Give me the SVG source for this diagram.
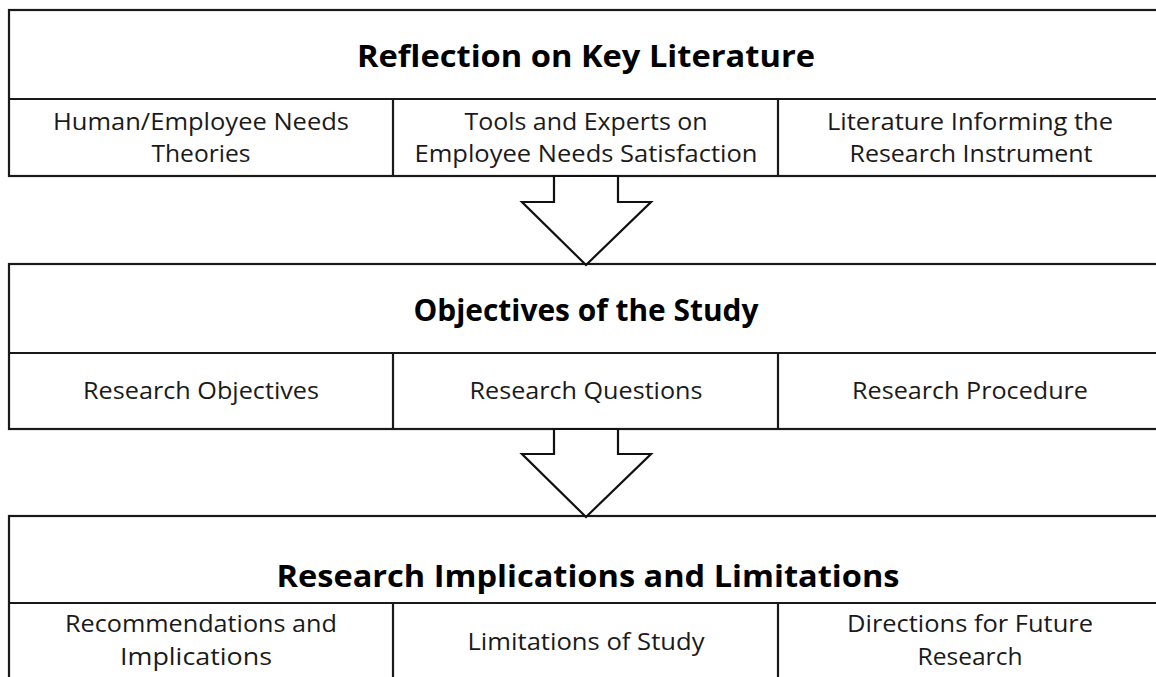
<svg xmlns="http://www.w3.org/2000/svg" width="1156" height="677" viewBox="0 0 1156 677">
<style>
.box{fill:#fff;stroke:#1a1a1a;stroke-width:2.2}
.ln{stroke:#1a1a1a;stroke-width:2.2}
.arr{fill:#fff;stroke:#111;stroke-width:2.2;stroke-linejoin:miter}
.t{font-family:"Open Sans","Liberation Sans",sans-serif;font-weight:bold;font-size:31px;fill:#000;text-anchor:middle}
.s{font-family:"Open Sans","Liberation Sans",sans-serif;font-size:23.5px;fill:#1a1a1a;text-anchor:middle}
</style>
<rect width="1156" height="677" fill="#fff"/>
<g id="block1">
<rect class="box" x="9" y="10" width="1160" height="166"/>
<line class="ln" x1="9" y1="99" x2="1169" y2="99"/>
<line class="ln" x1="393" y1="99" x2="393" y2="176"/>
<line class="ln" x1="778" y1="99" x2="778" y2="176"/>
<text class="t" x="586" y="67" textLength="458" lengthAdjust="spacingAndGlyphs">Reflection on Key Literature</text>
<text class="s" x="201" y="130" textLength="296" lengthAdjust="spacingAndGlyphs">Human/Employee Needs</text>
<text class="s" x="201" y="162" textLength="99" lengthAdjust="spacingAndGlyphs">Theories</text>
<text class="s" x="586" y="130" textLength="243" lengthAdjust="spacingAndGlyphs">Tools and Experts on</text>
<text class="s" x="586" y="162" textLength="343" lengthAdjust="spacingAndGlyphs">Employee Needs Satisfaction</text>
<text class="s" x="970" y="130" textLength="286" lengthAdjust="spacingAndGlyphs">Literature Informing the</text>
<text class="s" x="971" y="162" textLength="243" lengthAdjust="spacingAndGlyphs">Research Instrument</text>
</g>
<g id="block2">
<rect class="box" x="9" y="264" width="1160" height="165"/>
<line class="ln" x1="9" y1="353" x2="1169" y2="353"/>
<line class="ln" x1="393" y1="353" x2="393" y2="429"/>
<line class="ln" x1="778" y1="353" x2="778" y2="429"/>
<text class="t" x="586" y="321" textLength="345" lengthAdjust="spacingAndGlyphs">Objectives of the Study</text>
<text class="s" x="201" y="399" textLength="236" lengthAdjust="spacingAndGlyphs">Research Objectives</text>
<text class="s" x="586" y="399" textLength="233" lengthAdjust="spacingAndGlyphs">Research Questions</text>
<text class="s" x="970" y="399" textLength="236" lengthAdjust="spacingAndGlyphs">Research Procedure</text>
</g>
<g id="block3">
<rect class="box" x="9" y="516" width="1160" height="180"/>
<line class="ln" x1="9" y1="603" x2="1169" y2="603"/>
<line class="ln" x1="393" y1="603" x2="393" y2="690"/>
<line class="ln" x1="778" y1="603" x2="778" y2="690"/>
<text class="t" x="588" y="587" textLength="623" lengthAdjust="spacingAndGlyphs">Research Implications and Limitations</text>
<text class="s" x="201" y="632" textLength="272" lengthAdjust="spacingAndGlyphs">Recommendations and</text>
<text class="s" x="196" y="665" textLength="152" lengthAdjust="spacingAndGlyphs">Implications</text>
<text class="s" x="586" y="650" textLength="237" lengthAdjust="spacingAndGlyphs">Limitations of Study</text>
<text class="s" x="970" y="632" textLength="246" lengthAdjust="spacingAndGlyphs">Directions for Future</text>
<text class="s" x="970" y="665" textLength="105" lengthAdjust="spacingAndGlyphs">Research</text>
</g>
<g id="connectors">
<polygon class="arr" points="554,176 554,202 522,202 586,265 651,202 618,202 618,176"/>
<polygon class="arr" points="554,429 554,454 522,454 586,517 651,454 618,454 618,429"/>
</g>
</svg>
